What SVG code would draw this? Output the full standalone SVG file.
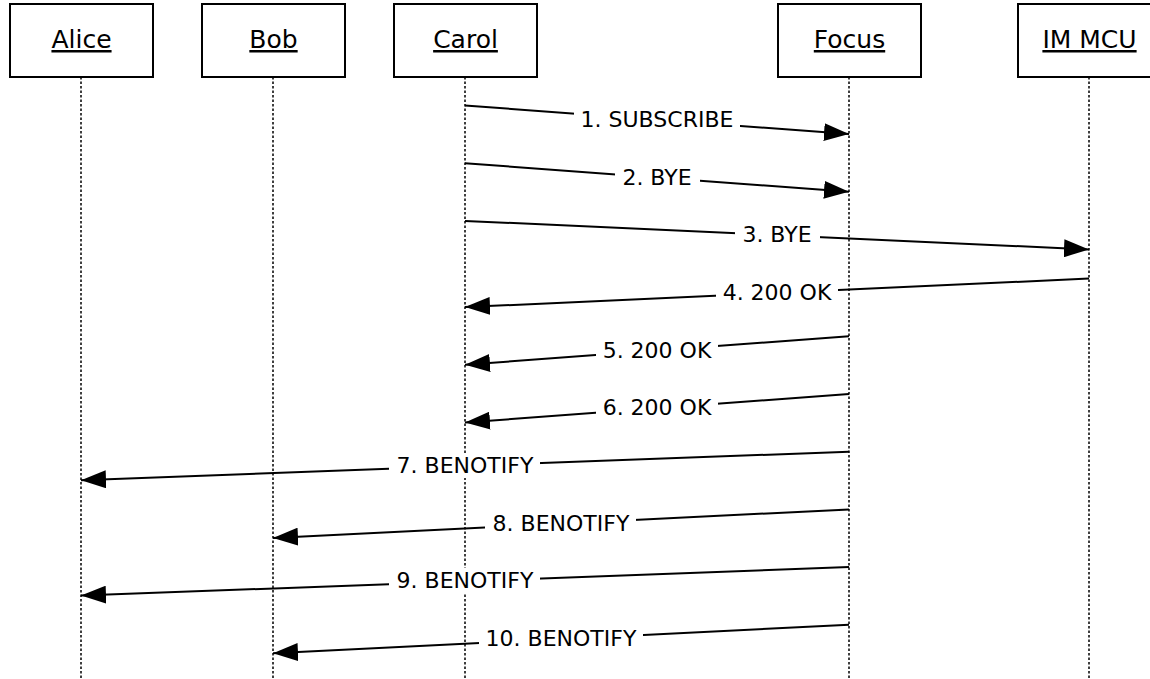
<svg xmlns="http://www.w3.org/2000/svg" width="1150" height="679" viewBox="0 0 1150 679">
<style>
.box{fill:#fff;stroke:#000;stroke-width:2}
.life{stroke:#000;stroke-width:1.5;stroke-dasharray:2.5,2;fill:none}
.name{font-family:"DejaVu Sans",Verdana,sans-serif;font-size:25px;text-anchor:middle;text-decoration:underline;fill:#000}
.msg{stroke:#000;stroke-width:2;fill:none;marker-end:url(#ah)}
.lbg{fill:#fff}
.lbl{font-family:"DejaVu Sans",Verdana,sans-serif;font-size:22px;text-anchor:middle;fill:#000}
</style>
<defs>
<marker id="ah" markerUnits="userSpaceOnUse" markerWidth="26" markerHeight="18" refX="25" refY="9" orient="auto">
<path d="M0,0 L25,9 L0,18 Z" fill="#000"/>
</marker>
</defs>
<rect width="1150" height="679" fill="#fff"/>
<g id="alice"><rect class="box" x="10" y="4" width="143" height="73"/><text class="name" x="81.5" y="48">Alice</text><line class="life" x1="81" y1="77" x2="81" y2="679"/></g>
<g id="bob"><rect class="box" x="202" y="4" width="143" height="73"/><text class="name" x="273.5" y="48">Bob</text><line class="life" x1="273" y1="77" x2="273" y2="679"/></g>
<g id="carol"><rect class="box" x="394" y="4" width="143" height="73"/><text class="name" x="465.5" y="48">Carol</text><line class="life" x1="465" y1="77" x2="465" y2="679"/></g>
<g id="focus"><rect class="box" x="778" y="4" width="143" height="73"/><text class="name" x="849.5" y="48">Focus</text><line class="life" x1="849" y1="77" x2="849" y2="679"/></g>
<g id="immcu"><rect class="box" x="1018" y="4" width="143" height="73"/><text class="name" x="1089.5" y="48">IM MCU</text><line class="life" x1="1089" y1="77" x2="1089" y2="679"/></g>
<g id="connectors">
<line class="msg" x1="465" y1="105.5" x2="849" y2="134"/>
<rect class="lbg" x="574" y="107" width="166" height="25"/>
<text class="lbl" x="657" y="126.5">1. SUBSCRIBE</text>
<line class="msg" x1="465" y1="163.2" x2="849" y2="191.7"/>
<rect class="lbg" x="615" y="165" width="85" height="25"/>
<text class="lbl" x="657" y="184.5">2. BYE</text>
<line class="msg" x1="465" y1="220.9" x2="1089" y2="249.4"/>
<rect class="lbg" x="735" y="222" width="85" height="25"/>
<text class="lbl" x="777" y="242">3. BYE</text>
<line class="msg" x1="1089" y1="278.6" x2="465" y2="307.1"/>
<rect class="lbg" x="716" y="280" width="122" height="25"/>
<text class="lbl" x="777" y="300">4. 200 OK</text>
<line class="msg" x1="849" y1="336.3" x2="465" y2="364.8"/>
<rect class="lbg" x="596" y="338" width="122" height="25"/>
<text class="lbl" x="657" y="357.5">5. 200 OK</text>
<line class="msg" x1="849" y1="394" x2="465" y2="422.5"/>
<rect class="lbg" x="596" y="395" width="122" height="25"/>
<text class="lbl" x="657" y="415">6. 200 OK</text>
<line class="msg" x1="849" y1="451.7" x2="81" y2="480.2"/>
<rect class="lbg" x="389" y="453" width="151" height="25"/>
<text class="lbl" x="465" y="473">7. BENOTIFY</text>
<line class="msg" x1="849" y1="509.4" x2="273" y2="537.9"/>
<rect class="lbg" x="485" y="511" width="151" height="25"/>
<text class="lbl" x="561" y="530.5">8. BENOTIFY</text>
<line class="msg" x1="849" y1="567.1" x2="81" y2="595.6"/>
<rect class="lbg" x="389" y="568" width="151" height="25"/>
<text class="lbl" x="465" y="588">9. BENOTIFY</text>
<line class="msg" x1="849" y1="624.8" x2="273" y2="653.3"/>
<rect class="lbg" x="479" y="626" width="164" height="25"/>
<text class="lbl" x="561" y="645.5">10. BENOTIFY</text>
</g>
</svg>
